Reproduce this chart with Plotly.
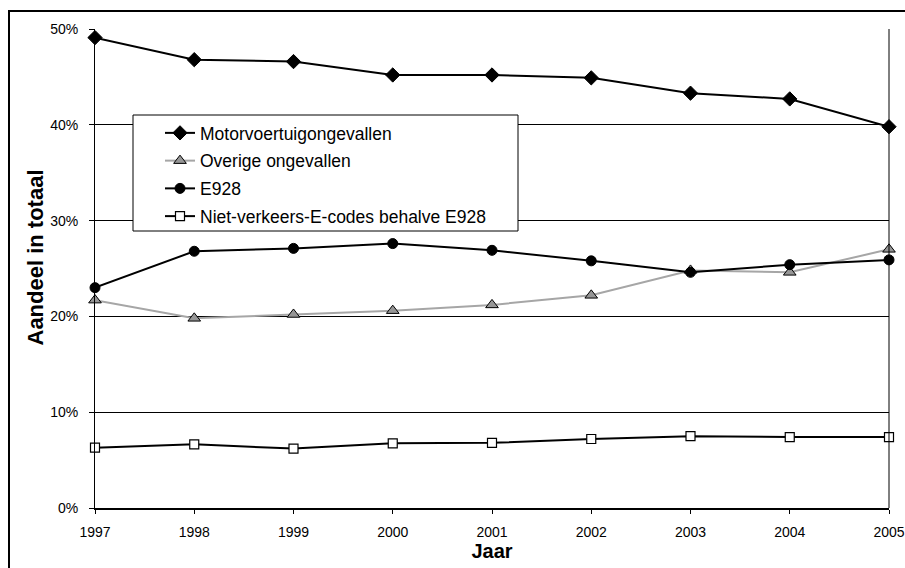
import plotly.graph_objects as go

# Jaarreeks en aandelen (% van totaal) per categorie
years = [1997, 1998, 1999, 2000, 2001, 2002, 2003, 2004, 2005]
motor = [49.1, 46.8, 46.6, 45.2, 45.2, 44.9, 43.3, 42.7, 39.8]
overige = [21.7, 19.8, 20.2, 20.6, 21.2, 22.2, 24.8, 24.6, 27.0]
e928 = [23.0, 26.8, 27.1, 27.6, 26.9, 25.8, 24.6, 25.4, 25.9]
niet_verkeers = [6.3, 6.65, 6.2, 6.75, 6.8, 7.2, 7.5, 7.4, 7.4]

y_ticks = [0, 10, 20, 30, 40, 50]

FONT = "Arial, Liberation Sans, sans-serif"
W, H = 905, 568
ML, MR, MT, MB = 95, 16, 29, 60
PW, PH = W - ML - MR, H - MT - MB


def px_x(px):
    return (px - ML) / PW


def px_y(py):
    return 1 - (py - MT) / PH


fig = go.Figure()

series = [
    ("Motorvoertuigongevallen", motor, "#000000",
     dict(symbol="diamond", size=11, color="#000000", line=dict(color="#000000", width=1))),
    ("Overige ongevallen", overige, "#a6a6a6",
     dict(symbol="triangle-up", size=11, color="#969696", line=dict(color="#000000", width=1))),
    ("E928", e928, "#000000",
     dict(symbol="circle", size=10, color="#000000", line=dict(color="#000000", width=1))),
    ("Niet-verkeers-E-codes behalve E928", niet_verkeers, "#000000",
     dict(symbol="square", size=9, color="#ffffff", line=dict(color="#000000", width=1.2))),
]

for i, (name, vals, lcol, mk) in enumerate(series):
    fig.add_trace(go.Scatter(
        x=years, y=vals, name=name, mode="lines+markers",
        line=dict(color=lcol, width=2),
        marker=mk, cliponaxis=False, legendgroup=f"g{i}",
    ))

fig.update_layout(
    width=W, height=H,
    margin=dict(l=ML, r=MR, t=MT, b=MB, autoexpand=False),
    paper_bgcolor="white", plot_bgcolor="white",
    font=dict(family=FONT, color="#000000"),
    showlegend=True,
    legend=dict(
        x=px_x(160), y=px_y(115), xanchor="left", yanchor="top",
        bgcolor="rgba(0,0,0,0)", borderwidth=0,
        font=dict(family=FONT, size=17.5, color="#000000"),
        traceorder="grouped", tracegroupgap=2,
    ),
    xaxis=dict(
        range=[1997, 2005], tickmode="array", tickvals=years,
        ticktext=[str(y) for y in years], automargin=False,
        showgrid=False, zeroline=False,
        showline=True, linecolor="#000000", linewidth=2,
        ticks="outside", ticklen=4, tickcolor="#000000", tickwidth=1,
        tickfont=dict(family=FONT, size=14, color="#000000"),
        ticklabelstandoff=6,
        title=dict(text="<b>Jaar</b>", font=dict(family=FONT, size=20, color="#000000"), standoff=2),
    ),
    yaxis=dict(
        range=[0, 50], tickmode="array", tickvals=y_ticks,
        ticktext=[f"{v}%" for v in y_ticks], automargin=False,
        showgrid=True, gridcolor="#000000", gridwidth=1, zeroline=False,
        showline=True, linecolor="#000000", linewidth=1,
        ticks="outside", ticklen=5, tickcolor="#000000", tickwidth=1,
        tickfont=dict(family=FONT, size=14, color="#000000"),
        ticklabelstandoff=8,
    ),
    annotations=[
        # vertical axis title
        dict(text="<b>Aandeel in totaal</b>", textangle=-90, showarrow=False,
             xref="paper", yref="paper", x=px_x(34.5), y=px_y(258),
             xanchor="center", yanchor="middle",
             font=dict(family=FONT, size=22, color="#000000")),
    ],
    shapes=[
        # right edge of the plot area
        dict(type="line", xref="paper", yref="paper", x0=1, x1=1, y0=0, y1=1,
             line=dict(color="#000000", width=1), layer="above"),
        # legend box
        dict(type="rect", xref="paper", yref="paper",
             x0=px_x(133), x1=px_x(518), y0=px_y(231), y1=px_y(115),
             fillcolor="white", line=dict(color="#000000", width=1), layer="above"),
        # outer chart frame
        dict(type="rect", xref="paper", yref="paper",
             x0=px_x(9), x1=px_x(930), y0=px_y(600), y1=px_y(11),
             fillcolor="rgba(0,0,0,0)", line=dict(color="#000000", width=2), layer="above"),
    ],
)

fig.write_html("out.html")
